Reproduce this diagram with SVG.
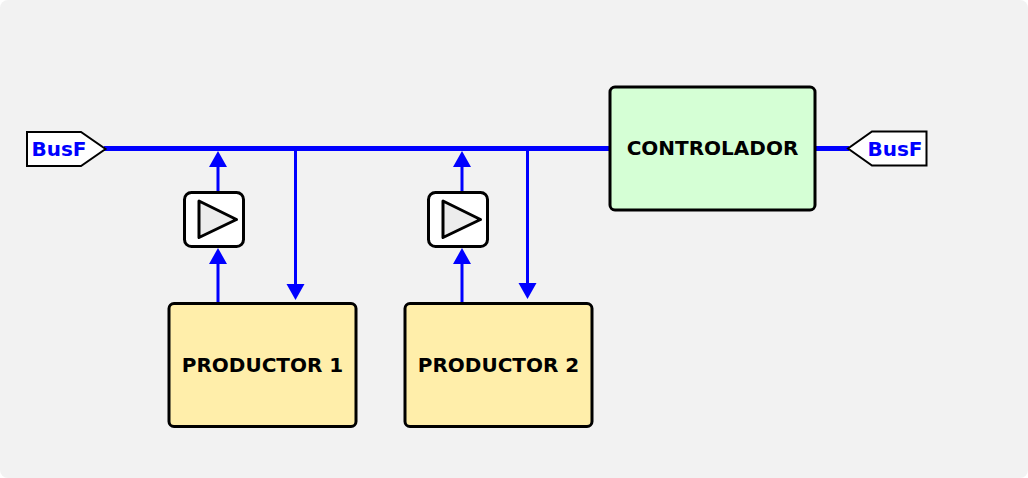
<svg xmlns="http://www.w3.org/2000/svg" width="1028" height="478" viewBox="0 0 1028 478">
<style>
text{font-family:"DejaVu Sans",sans-serif;font-weight:700;text-anchor:middle}
.box{stroke:#000;stroke-width:3}
.prod{fill:#ffeeaa}
.port{fill:#fff;stroke:#000;stroke-width:2}
.port-t{fill:#00f;font-size:20px}
.lbl{fill:#000;font-size:20px}
.bus{stroke:#00f;stroke-width:5;fill:none}
.wire{stroke:#00f;stroke-width:3;fill:none}
.head{fill:#00f}
.buf{fill:#fff;stroke:#000;stroke-width:3}
.tri{fill:#ececec;stroke:#000;stroke-width:3;stroke-linejoin:round}
</style>
<rect width="1028" height="478" rx="8" fill="#f2f2f2"/>
<g id="connectors">
<path class="bus" d="M104 148.500H612M816 148.500H849"/>
<path class="wire" d="M218 192V165M218 303V262M295.500 148V286M462 192V165M462 303V262M527.500 148V286"/>
<path class="head" d="M218 151l9 16h-18zM218 248l9 16h-18zM462 151l9 16h-18zM462 248l9 16h-18zM295.500 300l-9-16h18zM527.500 299l-9-16h18z"/>
</g>
<g id="busf-left"><path class="port" d="M27 132H81L105.500 149L81 166H27Z"/><text class="port-t" x="59" y="156">BusF</text></g>
<g id="busf-right"><path class="port" d="M926.500 131.500H872L848 148.500L872 165.500H926.500Z"/><text class="port-t" x="895" y="155.500">BusF</text></g>
<g id="controlador"><rect class="box" x="610" y="87" width="205" height="123" rx="5" fill="#d5ffd5"/><text class="lbl" x="712.500" y="155">CONTROLADOR</text></g>
<g id="buffer-1"><rect class="buf" x="184.500" y="192.500" width="59" height="54" rx="7"/><path class="tri" d="M199 201L236.500 219.500L199 237.500Z"/></g>
<g id="buffer-2"><rect class="buf" x="428.500" y="192.500" width="59" height="54" rx="7"/><path class="tri" d="M443 201L480.500 219.500L443 237.500Z"/></g>
<g id="productor-1"><rect class="box prod" x="169" y="303.500" width="187" height="123" rx="5"/><text class="lbl" x="262.500" y="372">PRODUCTOR 1</text></g>
<g id="productor-2"><rect class="box prod" x="405" y="303.500" width="187" height="123" rx="5"/><text class="lbl" x="498.500" y="372">PRODUCTOR 2</text></g>
</svg>
